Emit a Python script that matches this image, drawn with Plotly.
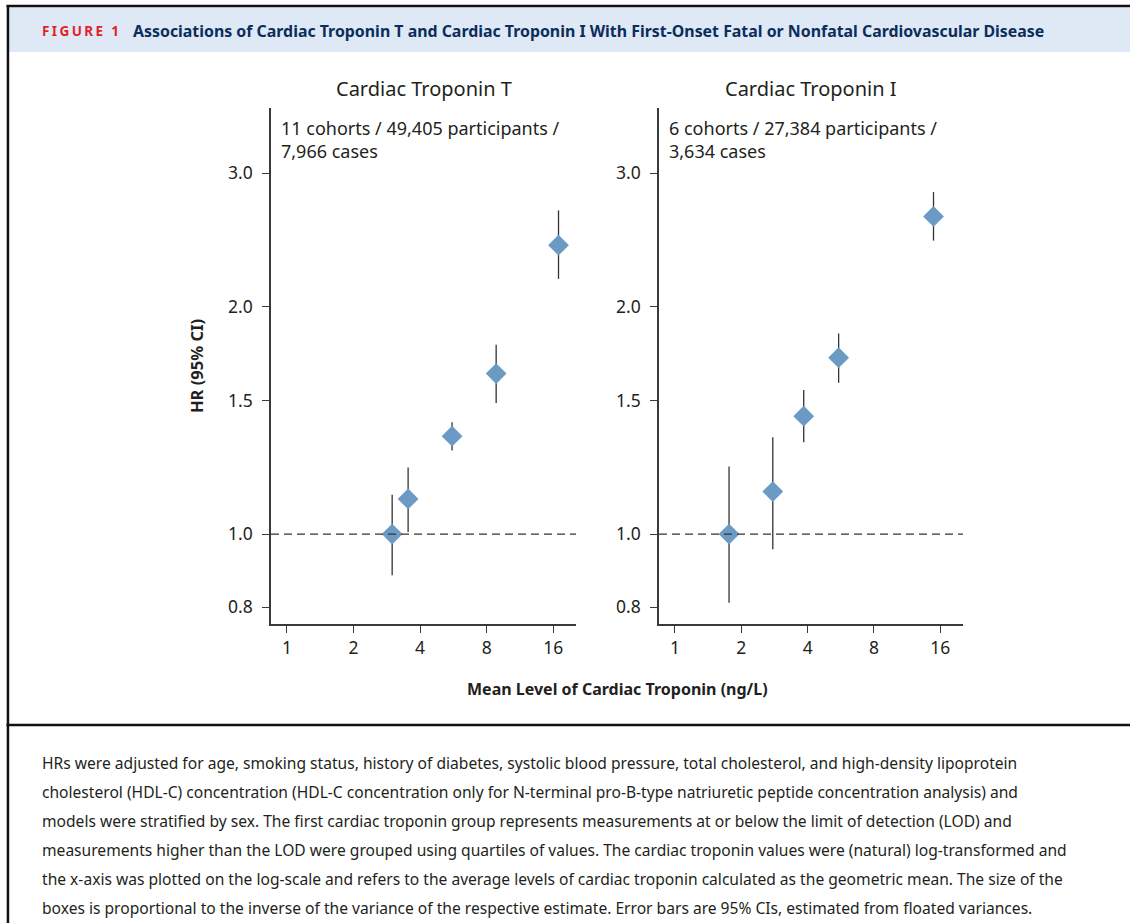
import plotly.graph_objects as go

# ---------------- data ----------------
tnt_x = [2.99, 3.53, 5.58, 8.83, 16.9]
tnt_hr = [1.00, 1.113, 1.347, 1.63, 2.41]
tnt_lo = [0.882, 1.006, 1.29, 1.49, 2.175]
tnt_hi = [1.127, 1.225, 1.406, 1.78, 2.68]

tni_x = [1.76, 2.78, 3.84, 5.53, 14.9]
tni_hr = [1.00, 1.138, 1.432, 1.711, 2.631]
tni_lo = [0.811, 0.955, 1.322, 1.585, 2.444]
tni_hi = [1.228, 1.343, 1.551, 1.842, 2.833]

panel_titles = ["Cardiac Troponin T", "Cardiac Troponin I"]
panel_notes = ["11 cohorts / 49,405 participants /<br>7,966 cases",
               "6 cohorts / 27,384 participants /<br>3,634 cases"]
x_ticks = [1, 2, 4, 8, 16]
y_ticks = [0.8, 1.0, 1.5, 2.0, 3.0]
y_ticklabels = ["0.8", "1.0", "1.5", "2.0", "3.0"]

fig_label = "FIGURE 1"
fig_title = ("Associations of Cardiac Troponin T and Cardiac Troponin I With "
             "First-Onset Fatal or Nonfatal Cardiovascular Disease")
y_title = "HR (95% CI)"
x_title = "Mean Level of Cardiac Troponin (ng/L)"
caption_lines = [
    "HRs were adjusted for age, smoking status, history of diabetes, systolic blood pressure, total cholesterol, and high-density lipoprotein",
    "cholesterol (HDL-C) concentration (HDL-C concentration only for N-terminal pro-B-type natriuretic peptide concentration analysis) and",
    "models were stratified by sex. The first cardiac troponin group represents measurements at or below the limit of detection (LOD) and",
    "measurements higher than the LOD were grouped using quartiles of values. The cardiac troponin values were (natural) log-transformed and",
    "the x-axis was plotted on the log-scale and refers to the average levels of cardiac troponin calculated as the geometric mean. The size of the",
    "boxes is proportional to the inverse of the variance of the respective estimate. Error bars are 95% CIs, estimated from floated variances.",
]

# ---------------- layout helpers ----------------
W, H = 1130, 923
def px(x):
    return x / W
def py(y):
    return 1 - y / H

FONT = "Noto Sans"
MARKER_COLOR = "#6B9BC5"
TEXT = "#231f20"

fig = go.Figure()

series = [(tnt_x, tnt_hr, tnt_lo, tnt_hi, "x", "y"),
          (tni_x, tni_hr, tni_lo, tni_hi, "x2", "y2")]
for xs, hr, lo, hi, xa, ya in series:
    fig.add_trace(go.Scatter(
        x=xs, y=hr, mode="markers", xaxis=xa, yaxis=ya,
        marker=dict(symbol="diamond", size=16, color=MARKER_COLOR, line=dict(width=0)),
        error_y=dict(type="data", symmetric=False,
                     array=[h - m for h, m in zip(hi, hr)],
                     arrayminus=[m - l for m, l in zip(hr, lo)],
                     width=0, thickness=1.3, color="#333333"),
        showlegend=False, hoverinfo="skip"))

xr = [-0.0723, 1.307]
yr = [-0.119, 0.5635]
ydom = [py(624), py(108)]
axis_common = dict(showline=True, linecolor="#3a3a3a", linewidth=1.5,
                   ticks="outside", ticklen=7, tickwidth=1.3, tickcolor="#3a3a3a",
                   showgrid=False, zeroline=False,
                   tickfont=dict(family=FONT, size=17.5, color=TEXT))

fig.update_layout(
    width=W, height=H, autosize=False,
    margin=dict(l=0, r=0, t=0, b=0),
    paper_bgcolor="white", plot_bgcolor="white",
    xaxis=dict(domain=[px(271), px(576)], type="log", range=xr, anchor="y",
               tickvals=x_ticks, ticktext=[str(v) for v in x_ticks], **axis_common),
    yaxis=dict(domain=ydom, type="log", range=yr, anchor="x",
               tickvals=y_ticks, ticktext=y_ticklabels, ticklabelstandoff=6, **axis_common),
    xaxis2=dict(domain=[px(659), px(963)], type="log", range=xr, anchor="y2",
                tickvals=x_ticks, ticktext=[str(v) for v in x_ticks], **axis_common),
    yaxis2=dict(domain=ydom, type="log", range=yr, anchor="x2",
                tickvals=y_ticks, ticktext=y_ticklabels, ticklabelstandoff=6, **axis_common),
)

shapes = []
# reference dashed lines at HR = 1
for xa, ya in [("x", "y"), ("x2", "y2")]:
    shapes.append(dict(type="line", xref=f"{xa} domain", yref=ya, x0=0, x1=1, y0=1, y1=1,
                       line=dict(color="#333333", width=1.3, dash="8px,5px")))
# header band
shapes.append(dict(type="rect", xref="paper", yref="paper", x0=px(8), x1=1, y0=py(52), y1=py(7.5),
                   fillcolor="#dee9f5", line=dict(width=0), layer="below"))
# frame lines (drawn as thin filled rects)
shapes.append(dict(type="rect", xref="paper", yref="paper", x0=px(6.5), x1=1, y0=py(7.3), y1=py(4.8),
                   fillcolor="#111111", line=dict(width=0)))
shapes.append(dict(type="rect", xref="paper", yref="paper", x0=px(6.7), x1=px(9.2), y0=0, y1=py(5),
                   fillcolor="#111111", line=dict(width=0)))
shapes.append(dict(type="rect", xref="paper", yref="paper", x0=px(6.5), x1=1, y0=py(726.2), y1=py(723.7),
                   fillcolor="#111111", line=dict(width=0)))
fig.update_layout(shapes=shapes)

ann = []
ann.append(dict(text=f"<b><span style='letter-spacing:2.4px'>{fig_label}</span></b>",
                x=px(40), y=py(31), xref="paper", yref="paper", xanchor="left", yanchor="middle",
                showarrow=False, font=dict(family=FONT, size=13.5, color="#e31f2c")))
ann.append(dict(text=f"<b>{fig_title}</b>",
                x=px(131), y=py(31), xref="paper", yref="paper", xanchor="left", yanchor="middle",
                showarrow=False, font=dict(family=FONT, size=15.9, color="#0b2d5c")))
for cx, t in zip([423.5, 811], panel_titles):
    ann.append(dict(text=t, x=px(cx), y=py(89), xref="paper", yref="paper",
                    xanchor="center", yanchor="middle", showarrow=False,
                    font=dict(family=FONT, size=20, color=TEXT)))
for lx, t in zip([279, 667], panel_notes):
    ann.append(dict(text=t, x=px(lx), y=py(114), xref="paper", yref="paper",
                    xanchor="left", yanchor="top", align="left", showarrow=False,
                    font=dict(family=FONT, size=18, color=TEXT)))
ann.append(dict(text=f"<b>{y_title}</b>", x=px(197), y=py(366), xref="paper", yref="paper",
                textangle=-90, xanchor="center", yanchor="middle", showarrow=False,
                font=dict(family=FONT, size=16.5, color=TEXT)))
ann.append(dict(text=f"<b>{x_title}</b>", x=px(617), y=py(689), xref="paper", yref="paper",
                xanchor="center", yanchor="middle", showarrow=False,
                font=dict(family=FONT, size=16, color=TEXT)))
for i, line in enumerate(caption_lines):
    ann.append(dict(text=line, x=px(40), y=py(763 + i * 28.9), xref="paper", yref="paper",
                    xanchor="left", yanchor="middle", showarrow=False,
                    font=dict(family=FONT, size=15.6, color=TEXT)))
fig.update_layout(annotations=ann)

fig.write_html("out.html", config={"displayModeBar": False},
               post_script="document.body.style.margin='0';")
